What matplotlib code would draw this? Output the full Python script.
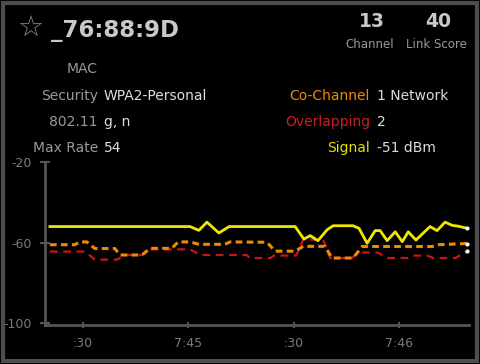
import matplotlib
matplotlib.use("Agg")
import matplotlib.pyplot as plt
from matplotlib.patches import Rectangle

# seconds after 7:44:00
signal_t = [20.6, 60.5, 63.0, 65.3, 68.7, 71.6, 90.4, 92.9, 94.7, 96.9, 99.5, 101.2,
            106.9, 108.6, 110.9, 113.2, 114.6, 116.6, 118.9, 120.9, 122.6, 124.8,
            128.8, 130.8, 133.1, 135.1, 136.8, 139.4]
signal_dbm = [-52, -52, -53.9, -49.8, -55.2, -52, -52, -58.2, -56.5, -59, -53.6, -51.6,
              -51.6, -52.9, -60.3, -54, -54, -59, -54.6, -59.5, -54.6, -58.7,
              -52, -54, -49.8, -51.4, -51.8, -52.9]

cochan_t = [20.6, 27.7, 29.1, 31.1, 33.4, 39.1, 40.5, 46.8, 49.1, 55.3, 57.1, 60.5, 63.0,
            70.4, 71.9, 82.4, 84.7, 90.4, 92.7, 98.9, 100.9, 106.9, 109.5, 129.4, 131.1, 139.4]
cochan_dbm = [-61, -61, -59.6, -59.6, -62.9, -62.9, -66.1, -66.1, -62.8, -62.8, -59.6, -59.6, -60.8,
              -60.8, -59.6, -59.8, -64.2, -64.2, -61.8, -61.8, -67.6, -67.6, -61.9, -61.9, -61, -60.4]

overlap_t = [20.6, 30.6, 33.4, 39.7, 41.9, 46.8, 49.1, 60.5, 63.3, 76.6, 77.5, 83.3, 84.4,
             90.7, 92.7, 98.4, 100.4, 106.6, 108.3, 114.0, 116.6, 122.6, 124.0, 128.0,
             129.7, 136.0, 139.4]
overlap_dbm = [-64.4, -64.4, -68.4, -68.4, -66.1, -66.1, -63.3, -63.3, -66.1, -66.1, -67.6, -67.6, -66.4,
               -66.4, -58.5, -58.5, -67.6, -67.6, -64.9, -64.9, -67.6, -67.6, -66.4, -66.4,
               -67.6, -67.6, -64.2]

tick_pos = [30, 60, 90, 120]
tick_labels = [":30", "7:45", ":30", "7:46"]
y_ticks = [-100, -60, -20]

left_keys = ["MAC", "Security", "802.11", "Max Rate"]
left_vals = ["", "WPA2-Personal", "g, n", "54"]
right_keys = ["Co-Channel", "Overlapping", "Signal"]
right_vals = ["1 Network", "2", "-51 dBm"]

YELLOW = "#f2e600"
ORANGE = "#f08a00"
RED = "#c8141e"
GRID = "#555555"

W, H = 480, 364
fig = plt.figure(figsize=(4.8, 3.64), dpi=100, facecolor="black")

# border
fig.patches.append(Rectangle((3 / W, 3 / H), 1 - 6 / W, 1 - 6 / H, transform=fig.transFigure,
                             fill=False, edgecolor="#4d4d4d", linewidth=3))


def fx(px):
    return px / W


def fy(py):
    return 1 - py / H


# header
fig.text(fx(30), fy(28), "\u2606", color="#8a8a8a", fontsize=21, ha="center", va="center")
fig.text(fx(51), fy(37), "_76:88:9D", color="#c8c8c8", fontsize=16.5, fontweight="bold",
         ha="left", va="baseline")
fig.text(fx(372), fy(27), "13", color="#c8c8c8", fontsize=13.5, fontweight="bold", ha="center", va="baseline")
fig.text(fx(438), fy(27), "40", color="#c8c8c8", fontsize=13.5, fontweight="bold", ha="center", va="baseline")
fig.text(fx(370), fy(48), "Channel", color="#999999", fontsize=8.5, ha="center", va="baseline")
fig.text(fx(436), fy(48), "Link Score", color="#999999", fontsize=8.5, ha="center", va="baseline")

rows_y = [73, 100, 126, 152]
for i, (k, v) in enumerate(zip(left_keys, left_vals)):
    fig.text(fx(98), fy(rows_y[i]), k, color="#999999", fontsize=10, ha="right", va="baseline")
    fig.text(fx(104), fy(rows_y[i]), v, color="#dddddd", fontsize=10, ha="left", va="baseline")

key_colors = [ORANGE, "#d01c28", "#e8e000"]
for i, (k, v) in enumerate(zip(right_keys, right_vals)):
    fig.text(fx(370), fy(rows_y[i + 1]), k, color=key_colors[i], fontsize=10, ha="right", va="baseline")
    fig.text(fx(377), fy(rows_y[i + 1]), v, color="#dddddd", fontsize=10, ha="left", va="baseline")

# chart
ax = fig.add_axes([fx(45), fy(325), fx(469) - fx(45), fy(162) - fy(325)])
ax.set_facecolor("black")
ax.plot(overlap_t, overlap_dbm, color=RED, lw=1.6, dashes=(3.5, 2.5), zorder=2)
ax.plot(cochan_t, cochan_dbm, color=ORANGE, lw=2.2, dashes=(2.2, 1.4), zorder=3)
ax.plot(signal_t, signal_dbm, color=YELLOW, lw=2.0, zorder=4)
for t, d in [(signal_t, signal_dbm), (cochan_t, cochan_dbm), (overlap_t, overlap_dbm)]:
    ax.plot(t[-1], d[-1], "o", color="white", ms=2, zorder=5)

ax.set_xlim(19.2, 139.9)
ax.set_ylim(-100.8, -20)
ax.set_xticks(tick_pos)
ax.set_xticklabels(tick_labels)
ax.set_yticks(y_ticks)
ax.set_yticklabels([str(v) for v in y_ticks])
for s in ["top", "right"]:
    ax.spines[s].set_visible(False)
for s in ["left", "bottom"]:
    ax.spines[s].set_color(GRID)
    ax.spines[s].set_linewidth(2)
ax.tick_params(axis="y", colors=GRID, direction="inout", length=7, width=1.5, labelcolor="#7a7a7a",
               labelsize=9, pad=6)
ax.tick_params(axis="x", colors=GRID, direction="inout", length=5, width=1.5, labelcolor="#7a7a7a",
               labelsize=9, pad=6)

fig.savefig("out.png", dpi=100, facecolor="black")
